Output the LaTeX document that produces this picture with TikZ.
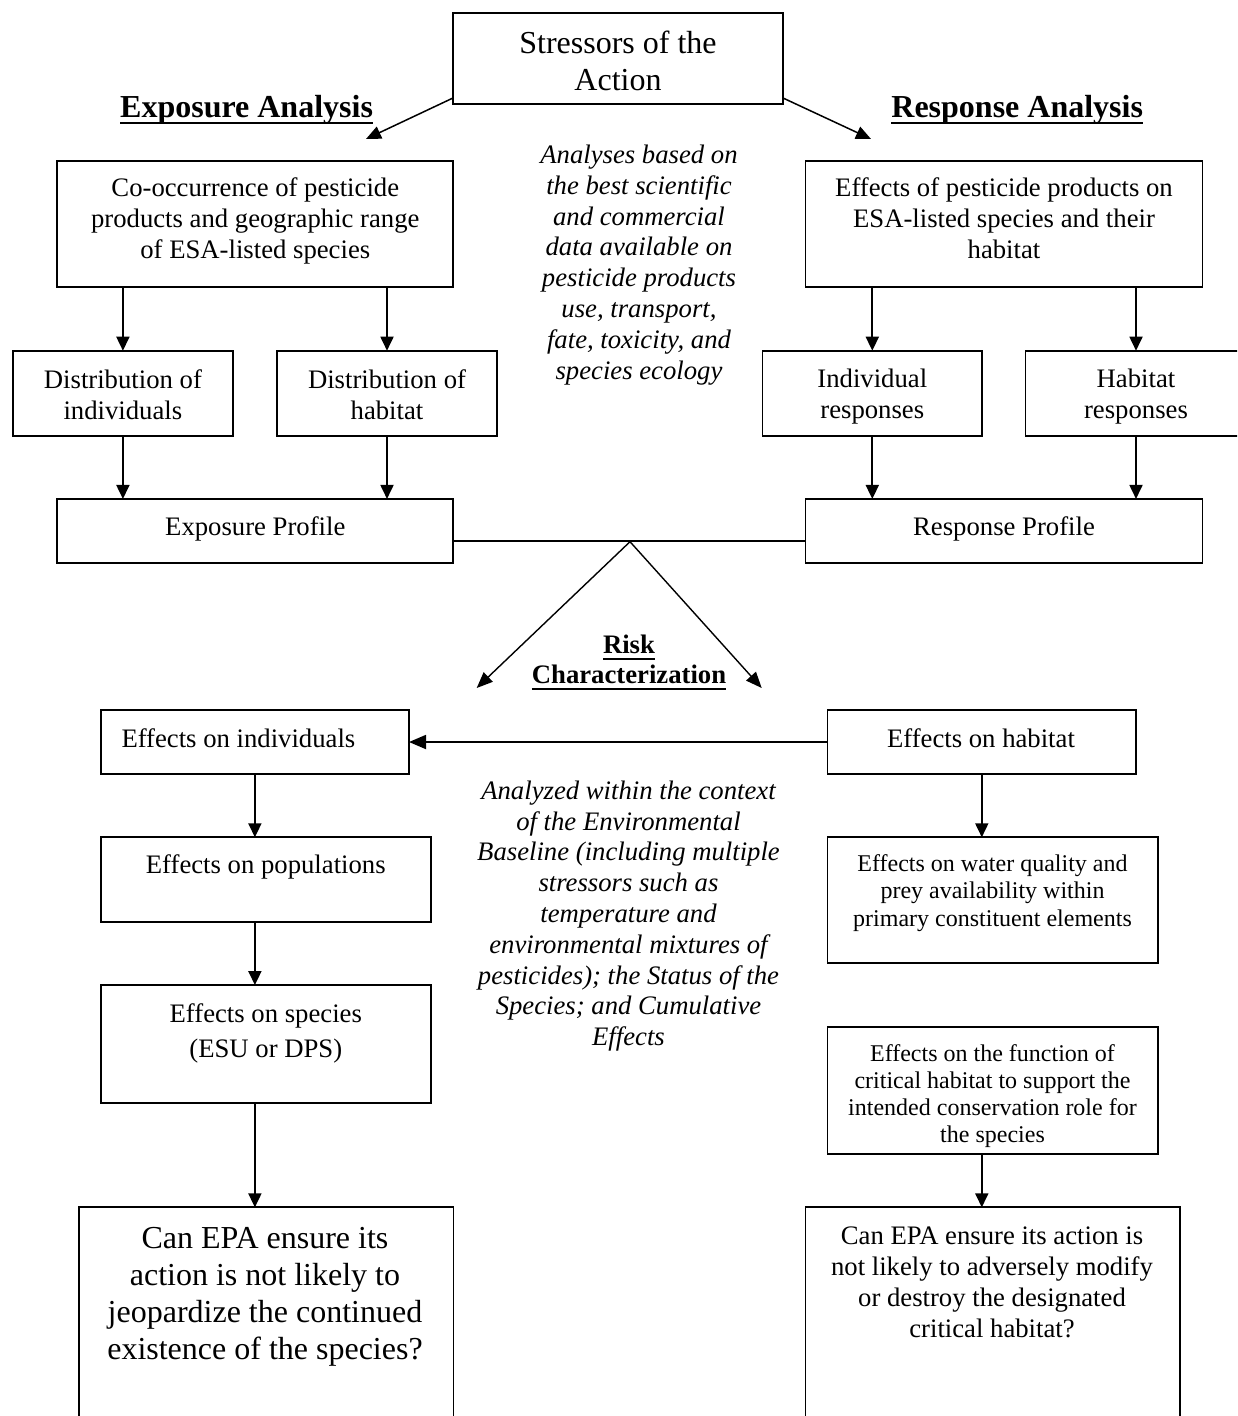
\documentclass[tikz,border=0pt]{standalone}
\usepackage{fontspec}
\setmainfont{Liberation Serif}
\usetikzlibrary{arrows.meta}
\newsavebox{\myulsave}
\newcommand{\myul}[1]{\sbox{\myulsave}{#1}\rlap{\rule[-6.5pt]{\wd\myulsave}{1.8pt}}\usebox{\myulsave}}
\tikzset{
  box/.style={draw, line width=1.8pt, inner sep=0pt, outer sep=0pt},
  txt/.style={inner sep=0pt, align=center},
  arr/.style={line width=1.8pt, -{Triangle[width=13pt,length=14pt]}},
  thinarr/.style={line width=1.4pt, -{Triangle[width=13pt,length=16pt]}},
  plainline/.style={line width=1.8pt},
  fbody/.style={font={\fontsize{26.7}{31}\selectfont}},
  fsmall/.style={font={\fontsize{24}{27.5}\selectfont}},
  fbig/.style={font={\fontsize{32}{36.5}\selectfont}},
  fhead/.style={font={\fontsize{32}{36}\selectfont\bfseries}},
  fital/.style={font={\fontsize{26.7}{30.8}\selectfont\itshape}},
}
\begin{document}
\begin{tikzpicture}[x=1pt,y=-1pt]
\path[use as bounding box] (0,0) rectangle (1237,1416);
\clip (0,0) rectangle (1237,1416);

% boxes
\node[box, minimum width=330pt, minimum height=91pt] (stress) at (618,58.5) {};
\node[box, minimum width=396pt, minimum height=126pt] (cooc) at (255.3,224.2) {};
\node[box, minimum width=397pt, minimum height=126pt] (effp) at (1004,224.2) {};
\node[box, minimum width=220.6pt, minimum height=85pt] (distI) at (122.9,393.2) {};
\node[box, minimum width=220.5pt, minimum height=85pt] (distH) at (387,393.2) {};
\node[box, minimum width=219.7pt, minimum height=85pt] (indR) at (872.3,393.2) {};
\node[box, minimum width=221pt, minimum height=85pt] (habR) at (1136,393.2) {};
\node[box, minimum width=396pt, minimum height=63.7pt] (expo) at (255.3,530.8) {};
\node[box, minimum width=397pt, minimum height=63.7pt] (resp) at (1004,530.8) {};
\node[box, minimum width=308.2pt, minimum height=64pt] (effind) at (254.9,742) {};
\node[box, minimum width=308.5pt, minimum height=64pt] (effhab) at (981.8,742) {};
\node[box, minimum width=330pt, minimum height=84.4pt] (effpop) at (265.8,879.5) {};
\node[box, minimum width=330.7pt, minimum height=126pt] (water) at (992.9,900.3) {};
\node[box, minimum width=330pt, minimum height=117.7pt] (effsp) at (265.8,1043.9) {};
\node[box, minimum width=330.7pt, minimum height=126.7pt] (func) at (992.9,1090.7) {};
\node[box, minimum width=374.4pt, minimum height=232.7pt] (canL) at (266.2,1323.7) {};
\node[box, minimum width=374.8pt, minimum height=232.7pt] (canR) at (992.8,1323.7) {};

% texts
\node[txt, fbig] (stress-t) at (618,61) {Stressors of the\\Action};
\node[txt, fhead, anchor=base] (expA) at (246.6,117) {\myul{Exposure Analysis}};
\node[txt, fhead, anchor=base] (respA) at (1017.2,117) {\myul{Response Analysis}};
\node[txt, fital] (ital1) at (639,265) {Analyses based on\\the best scientific\\and commercial\\data available on\\pesticide products\\use, transport,\\fate, toxicity, and\\species ecology};
\node[txt, fbody] (cooc-t) at (255.3,221) {Co-occurrence of pesticide\\products and geographic range\\of ESA-listed species};
\node[txt, fbody] (effp-t) at (1004,218.5) {Effects of pesticide products on\\ESA-listed species and their\\habitat};
\node[txt, fbody] (distI-t) at (122.9,394.5) {Distribution of\\individuals};
\node[txt, fbody] (distH-t) at (387,394.5) {Distribution of\\habitat};
\node[txt, fbody] (indR-t) at (872.3,397) {Individual\\responses};
\node[txt, fbody] (habR-t) at (1136,397) {Habitat\\responses};
\node[txt, fbody] (expo-t) at (255.3,529) {Exposure Profile};
\node[txt, fbody] (resp-t) at (1004,529) {Response Profile};
\node[txt, font={\fontsize{26.7}{30.5}\selectfont\bfseries}] (risk-t) at (629,662.5) {\myul{Risk}\\\myul{Characterization}};
\node[txt, fbody, anchor=west] (effind-t) at (121.3,738) {Effects on individuals};
\node[txt, fbody] (effhab-t) at (981,738) {Effects on habitat};
\node[txt, fital] (ital2) at (628.5,916) {Analyzed within the context\\of the Environmental\\Baseline (including multiple\\stressors such as\\temperature and\\environmental mixtures of\\pesticides); the Status of the\\Species; and Cumulative\\Effects};
\node[txt, fbody] (effpop-t) at (265.8,867) {Effects on populations};
\node[txt, fsmall] (water-t) at (992.5,893) {Effects on water quality and\\prey availability within\\primary constituent elements};
\node[txt, font={\fontsize{26.7}{35}\selectfont}] (effsp-t) at (265.8,1033) {Effects on species\\(ESU or DPS)};
\node[txt, font={\fontsize{24}{27.2}\selectfont}] (func-t) at (992.5,1096) {Effects on the function of\\critical habitat to support the\\intended conservation role for\\the species};
\node[txt, font={\fontsize{32}{37.2}\selectfont}] (canL-t) at (265,1296.6) {Can EPA ensure its\\action is not likely to\\jeopardize the continued\\existence of the species?};
\node[txt, font={\fontsize{26.7}{31}\selectfont}] (canR-t) at (992,1282.7) {Can EPA ensure its action is\\not likely to adversely modify\\or destroy the designated\\critical habitat?};

% connector end points
\coordinate (expTip) at (366,139);
\coordinate (respTip) at (871,139);
\coordinate (apex) at (630,541.7);
\coordinate (rcL) at (476.7,688);
\coordinate (rcR) at (761.7,688);

% connectors
\draw[line width=1.5pt, -{Triangle[width=13pt,length=15pt]}] ([yshift=6pt]stress.south west) -- (expTip);
\draw[line width=1.5pt, -{Triangle[width=13pt,length=15pt]}] ([yshift=6pt]stress.south east) -- (respTip);

\draw[arr] (cooc.south -| distI.north) -- (distI.north);
\draw[arr] (cooc.south -| distH.north) -- (distH.north);
\draw[arr] (effp.south -| indR.north) -- (indR.north);
\draw[arr] (effp.south -| habR.north) -- (habR.north);

\draw[arr] (distI.south) -- (distI.south |- expo.north);
\draw[arr] (distH.south) -- (distH.south |- expo.north);
\draw[arr] (indR.south) -- (indR.south |- resp.north);
\draw[arr] (habR.south) -- (habR.south |- resp.north);

\draw[plainline] ([yshift=-10.5pt]expo.east) -- ([yshift=-10.5pt]resp.west);
\draw[thinarr] (apex) -- (rcL);
\draw[thinarr] (apex) -- (rcR);

\draw[line width=1.8pt, -{Triangle[width=14pt,length=17pt]}] (effhab.west) -- (effind.east);

\draw[arr] (effind.south) -- (effind.south |- effpop.north);
\draw[arr] (effpop.south -| effind.south) -- (effsp.north -| effind.south);
\draw[arr] (effsp.south -| effind.south) -- (canL.north -| effind.south);

\draw[arr] (effhab.south) -- (effhab.south |- water.north);
\draw[arr] (func.south -| effhab.south) -- (canR.north -| effhab.south);
\end{tikzpicture}
\end{document}
